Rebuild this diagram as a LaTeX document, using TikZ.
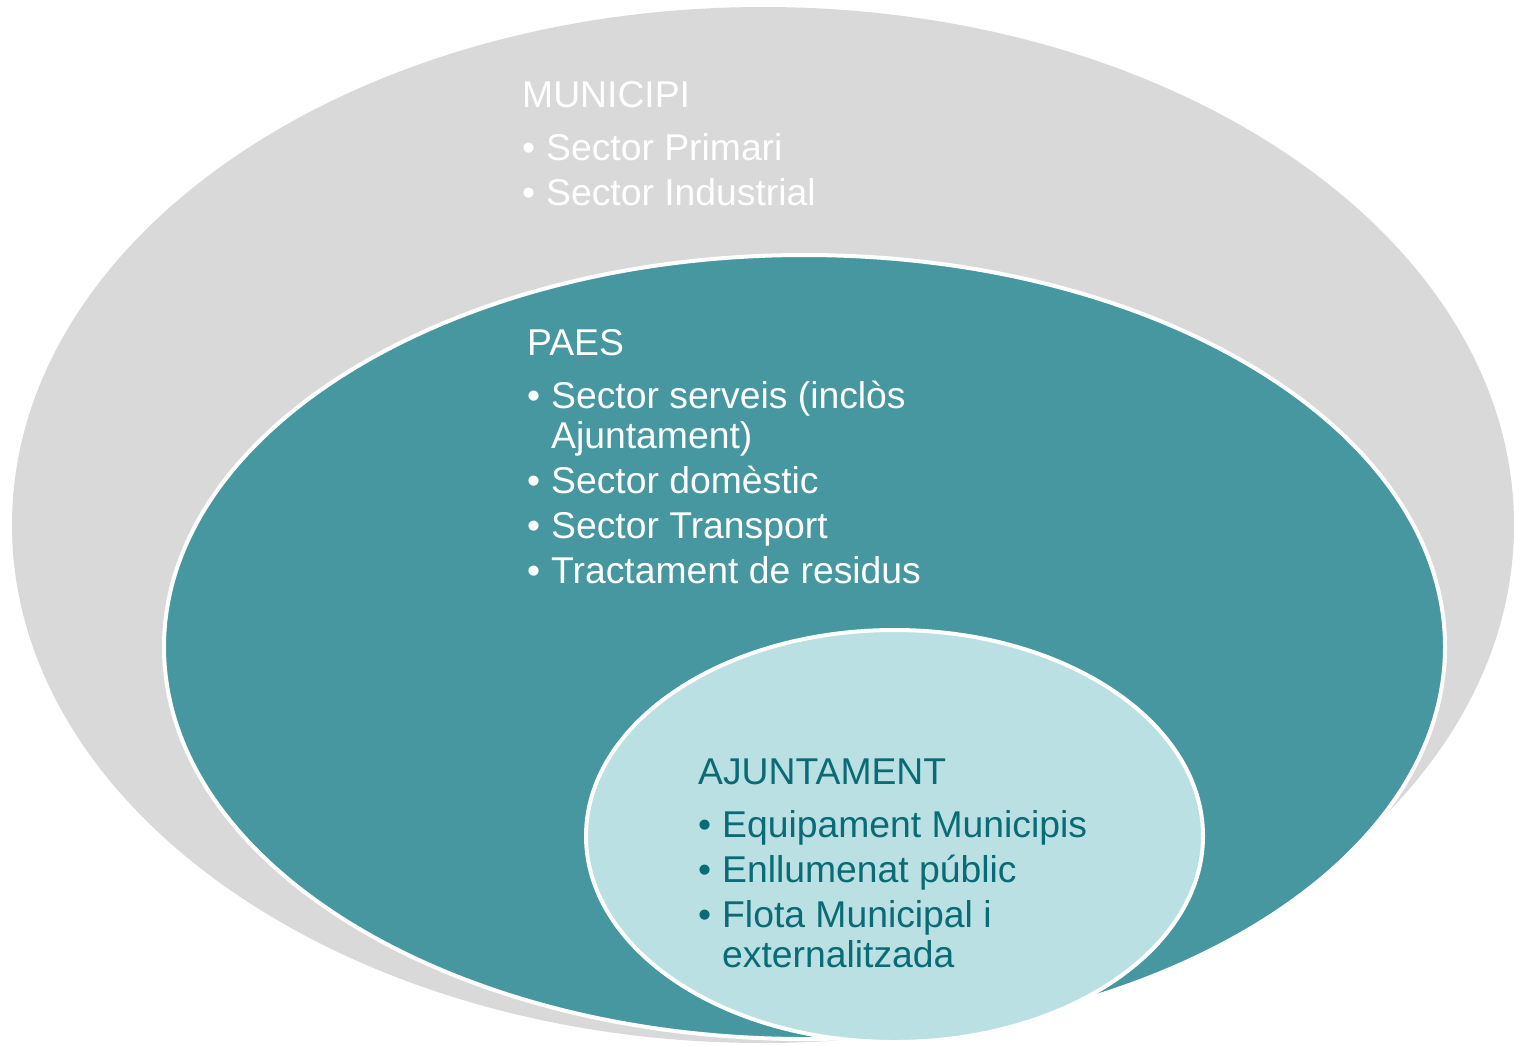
\documentclass[tikz,border=0pt]{standalone}
\usepackage{fontspec}
\setmainfont{Liberation Sans}
\usetikzlibrary{shapes.geometric}

\definecolor{grisclar}{HTML}{D9D9D9}
\definecolor{verdblau}{HTML}{4697A0}
\definecolor{blauclar}{HTML}{BBE0E3}
\definecolor{textfosc}{HTML}{086B75}

\newcommand{\punt}[1]{\makebox[24pt][l]{\textbullet}#1}
\newcommand{\segueix}[1]{\hspace*{24pt}#1}

\begin{document}
\begin{tikzpicture}[x=1pt, y=-1pt]

\tikzstyle{zona} = [ellipse, inner sep=0pt, line width=4pt]
\tikzstyle{llista} = [anchor=north west, align=left, inner sep=0pt, font=\fontsize{37.3}{40}\selectfont]

\useasboundingbox (0,0) rectangle (1514,1045);

% Ellipses
\node (municipi) [zona, fill=grisclar, minimum width=1502pt, minimum height=1036pt] at (763,525) {};
\node (paes) [zona, fill=verdblau, draw=white, minimum width=1281pt, minimum height=784pt] at (804.5,647) {};
\node (ajuntament) [zona, fill=blauclar, draw=white, minimum width=617pt, minimum height=412pt] at (894.5,836) {};

% Texts
\node (txtmun) [llista, text=white] at (522,81.5) {MUNICIPI\\[13pt]
  \punt{Sector Primari}\\[5pt]
  \punt{Sector Industrial}};

\node (txtpaes) [llista, text=white] at (527,329.5) {PAES\\[13pt]
  \punt{Sector serveis (inclòs}\\
  \segueix{Ajuntament)}\\[5pt]
  \punt{Sector domèstic}\\[5pt]
  \punt{Sector Transport}\\[5pt]
  \punt{Tractament de residus}};

\node (txtajun) [llista, text=textfosc] at (698,758.5) {AJUNTAMENT\\[13pt]
  \punt{Equipament Municipis}\\[5pt]
  \punt{Enllumenat públic}\\[5pt]
  \punt{Flota Municipal i}\\
  \segueix{externalitzada}};

\end{tikzpicture}
\end{document}
